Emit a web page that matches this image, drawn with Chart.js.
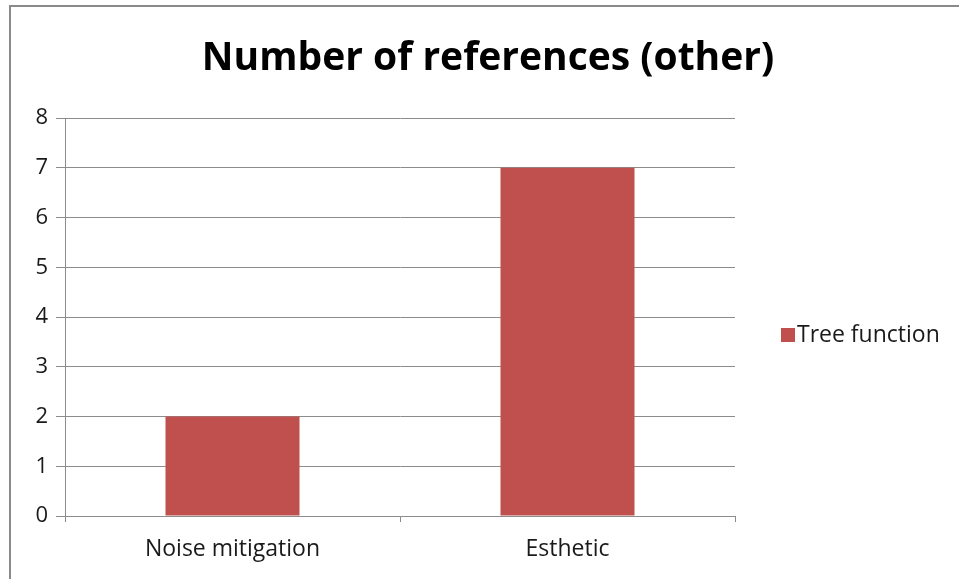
<!DOCTYPE html>
<html>
<head>
<meta charset="utf-8">
<script src="https://cdn.jsdelivr.net/npm/chart.js@4"></script>
<style>
  html, body { margin: 0; padding: 0; background: #fff; }
  #wrap { position: relative; width: 959px; height: 579px; overflow: hidden; }
  #frame { position: absolute; left: 9px; top: 5px; width: 960px; height: 590px; border: 2px solid #8a8a8a; box-sizing: border-box; }
  #graph { position: absolute; left: 0; top: 0; }
</style>
</head>
<body>
<div id="wrap">
  <div id="frame"></div>
  <canvas id="graph" width="959" height="579"></canvas>
</div>
<script>
var categories = ["Noise mitigation", "Esthetic"];
var values = [2, 7];
var seriesName = "Tree function";
var yTicks = [0, 1, 2, 3, 4, 5, 6, 7, 8];
var title = "Number of references (other)";

var barColor = "#C0504D";
var gridColor = "#8c8c8c";
var fontFamily = "'Open Sans', sans-serif";

//title and legend are drawn by hand so they sit where the original has them//
const sideParts = {
  id: "sideParts",
  afterDraw(chart) {
    const ctx = chart.ctx;
    const ds = chart.data.datasets[0];
    ctx.save();
    ctx.fillStyle = "#000";
    ctx.font = "bold 39px " + fontFamily;
    ctx.textAlign = "center";
    ctx.textBaseline = "middle";
    ctx.fillText(title, 488, 59);
    ctx.textAlign = "left";
    ctx.fillStyle = ds.backgroundColor;
    ctx.fillRect(781, 328, 14, 14);
    ctx.fillStyle = "#1a1a1a";
    ctx.font = "23px " + fontFamily;
    ctx.fillText(ds.label, 797, 335);
    ctx.restore();
  }
};

const graph = new Chart("graph", {
  type: "bar",
  data: {
    labels: categories,
    datasets: [{
      label: seriesName,
      data: values,
      backgroundColor: barColor,
      barPercentage: 0.4,
      categoryPercentage: 1.0
    }]
  },
  options: {
    responsive: false,
    animation: false,
    layout: { padding: { left: 0, right: 224, top: 118, bottom: 0 } },
    scales: {
      x: {
        grid: { drawOnChartArea: false, color: gridColor, tickLength: 6, offset: true },
        border: { color: gridColor, width: 1 },
        ticks: { color: "#1a1a1a", font: { family: fontFamily, size: 23 }, padding: 14 },
        afterFit: s => { s.height = 63; }
      },
      y: {
        min: 0, max: 8,
        afterBuildTicks: s => { s.ticks = yTicks.map(v => ({ value: v })); },
        grid: { color: gridColor, tickLength: 9 },
        border: { color: gridColor, width: 1 },
        ticks: { color: "#1a1a1a", font: { family: fontFamily, size: 22 }, padding: 8 },
        afterFit: s => { s.width = 65; }
      }
    },
    plugins: {
      legend: { display: false },
      tooltip: { enabled: false },
      title: { display: false }
    }
  },
  plugins: [sideParts]
});
</script>
</body>
</html>
